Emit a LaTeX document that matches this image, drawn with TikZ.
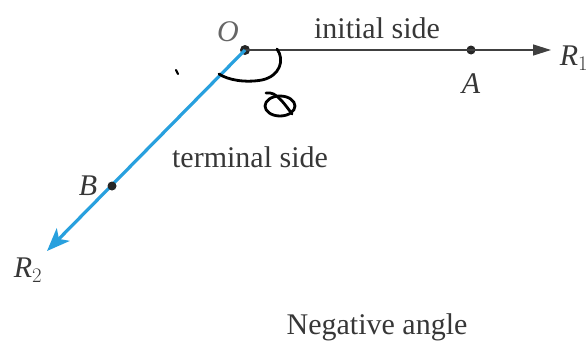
\documentclass[tikz,border=0pt]{standalone}
\usepackage{fontspec}
\setmainfont{Liberation Serif}
\usetikzlibrary{arrows.meta}
\definecolor{rayblue}{RGB}{40,160,222}
\definecolor{txt}{RGB}{55,55,55}
\begin{document}
\begin{tikzpicture}[x=1pt,y=-1pt,
  lbl/.style={font=\fontsize{30}{33}\selectfont, text=txt, inner sep=0pt},
  ilbl/.style={font=\fontsize{30}{33}\selectfont\itshape, text=txt, inner sep=0pt},
  pt/.style={circle, fill=black!85, inner sep=0pt, minimum size=9pt},
  hand/.style={draw=black, line width=2.8pt, line cap=round, line join=round}]
\useasboundingbox (0,0) rectangle (588,343);
\node[pt, minimum size=10pt] (O) at (245,50) {};
\node[pt] (A) at (471,50) {};
\coordinate (R1tip) at (551,50);
\coordinate (R2tip) at (47,251);
\draw[line width=1.4pt, draw=black!75, -{Triangle[length=18pt,width=11pt]}] (O.center) -- (R1tip);
\draw[line width=3.2pt, draw=rayblue, -{Stealth[length=23pt,width=18pt,inset=6pt]}] (O.center) -- (R2tip);
\node[pt] (B) at (112,186) {};
\node[ilbl, text=black!60] (Ol) at (228,32) {O};
\node[ilbl] (Al) at (471,84) {A};
\node[ilbl] (Bl) at (88,186) {B};
\node[ilbl] (R1l) at (574,58) {R$_1$};
\node[ilbl] (R2l) at (28,270) {R$_2$};
\node[lbl] (init) at (377,28) {initial side};
\node[lbl] (term) at (250,157) {terminal side};
\node[lbl] (neg) at (377,327) {Negative angle};
% handwritten angle mark
\draw[hand] (277,49) .. controls (285,60) and (280,76) .. (262,80)
  .. controls (245,83) and (228,80) .. (219,74);
\draw[hand] (280,106) ellipse (15pt and 10pt);
\draw[hand] (266,93) .. controls (272,92) and (276,95) .. (280,99)
  .. controls (285,104) and (289,110) .. (292,114);
\draw[hand, line width=2.2pt] (176,70) -- (178,74);
\end{tikzpicture}
\end{document}
